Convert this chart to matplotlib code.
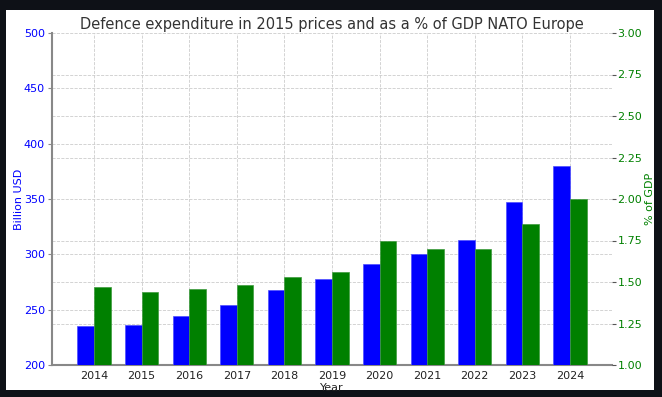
import numpy as np
import matplotlib
matplotlib.use("Agg")
import matplotlib.pyplot as plt
from matplotlib.patches import Rectangle

years = [2014, 2015, 2016, 2017, 2018, 2019, 2020, 2021, 2022, 2023, 2024]
spend_busd = [235, 236, 244, 254, 268, 278, 291, 300, 313, 347, 380]
pct_gdp = [1.47, 1.44, 1.46, 1.48, 1.53, 1.56, 1.75, 1.70, 1.70, 1.85, 2.00]

fig = plt.figure(figsize=(6.62, 3.97), dpi=100, facecolor='#0e1117')
# white card the chart sits on
fig.patches.append(Rectangle((6/662, 7/397), 648/662, 380/397,
                             transform=fig.transFigure, facecolor='white',
                             edgecolor='none', zorder=-10))

ax1 = fig.add_axes([52/662, 32/397, 560/662, 332/397])
ax1.set_facecolor('none')
ax2 = ax1.twinx()

x = np.arange(len(years))
w = 0.35
ax1.bar(x - w/2, spend_busd, w, color='#0000ff', edgecolor='#4d4dff',
        linewidth=0.5, zorder=3)
ax2.bar(x + w/2, pct_gdp, w, color='#008000', edgecolor='#3d9a3d',
        linewidth=0.5, zorder=3)

ax1.set_ylim(200, 500)
ax1.set_yticks(np.arange(200, 501, 50))
ax2.set_ylim(1, 3)
pct_ticks = np.arange(1, 3.01, 0.25)
ax2.set_yticks(pct_ticks)
ax1.set_xticks(x)
ax1.set_xticklabels([str(y) for y in years])

# right-axis gridlines drawn on the left axes so they stay behind all bars
ax1.set_yticks(200 + (pct_ticks - 1) * 150, minor=True)
ax1.tick_params(axis='y', which='minor', length=0)
ax1.grid(True, which='both', linestyle='--', color='#cccccc', linewidth=0.6)
ax1.set_axisbelow(True)

for a in (ax1, ax2):
    for s in ('top', 'right', 'left', 'bottom'):
        a.spines[s].set_visible(False)

ax1.spines['left'].set_visible(True)
ax1.spines['left'].set_color('#888888')
ax1.spines['left'].set_linewidth(1.5)
ax1.spines['bottom'].set_visible(True)
ax1.spines['bottom'].set_color('#888888')
ax1.spines['bottom'].set_linewidth(1.5)

ax1.tick_params(axis='y', which='major', colors='#888888', labelcolor='#0000ff',
                labelsize=8, length=3, pad=2)
ax2.tick_params(axis='y', colors='#555555', labelcolor='#008000', labelsize=8,
                length=3, pad=1)
ax1.tick_params(axis='x', length=0, labelsize=8, labelcolor='#222222', pad=4)

ax1.set_ylabel('Billion USD', color='#0000ff', fontsize=8, labelpad=0)
ax2.set_ylabel('% of GDP', color='#008000', fontsize=8, labelpad=2)
ax1.set_xlabel('Year', fontsize=8, color='#222222', labelpad=2)
ax1.set_title('Defence expenditure in 2015 prices and as a % of GDP NATO Europe',
              fontsize=10.5, color='#333333', pad=3)

fig.savefig('out.png', dpi=100, facecolor=fig.get_facecolor())
